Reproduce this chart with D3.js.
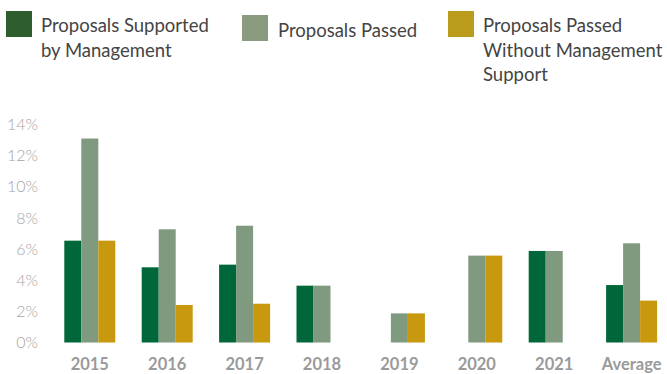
<!DOCTYPE html>
<html>
<head>
<meta charset="utf-8">
<script src="https://cdn.jsdelivr.net/npm/d3@7/dist/d3.min.js"></script>
<style>
  html, body { margin: 0; padding: 0; background: #fff; }
  svg { display: block; }
</style>
</head>
<body>
<svg id="chart" width="667" height="374"></svg>
<script>
// Share of shareholder proposals, by year
const years = ["2015", "2016", "2017", "2018", "2019", "2020", "2021", "Average"];
const supportedByMgmt = [6.54, 4.83, 5.0, 3.65, 0, 0, 5.88, 3.69];
const passed = [13.1, 7.27, 7.5, 3.65, 1.87, 5.58, 5.88, 6.37];
const passedWithoutMgmt = [6.54, 2.41, 2.49, 0, 1.87, 5.58, 0, 2.69];
const yTicks = [0, 2, 4, 6, 8, 10, 12, 14];

const seriesKeys = ["supported", "passed", "without"];
const seriesValues = { supported: supportedByMgmt, passed: passed, without: passedWithoutMgmt };
const legendLines = {
  supported: ["Proposals Supported", "by Management"],
  passed: ["Proposals Passed"],
  without: ["Proposals Passed", "Without Management", "Support"]
};
const barColor = { supported: "#00673a", passed: "#7f9a7f", without: "#c8980e" };
const swatchColor = { supported: "#2e5e30", passed: "#8a9b7f", without: "#b99c1b" };

const svg = d3.select("#chart");

const x = d3.scaleBand()
  .domain(years)
  .range([51.1, 670.3])
  .paddingInner(0.341)
  .paddingOuter(0.1705);

const xInner = d3.scaleBand()
  .domain(seriesKeys)
  .range([0, x.bandwidth()])
  .padding(0);

const y = d3.scaleLinear().domain([0, 14]).range([342.5, 124.5]);

// bars
const groups = svg.append("g").selectAll("g")
  .data(years)
  .join("g")
  .attr("transform", d => `translate(${x(d)},0)`);

groups.selectAll("rect")
  .data((d, i) => seriesKeys.map(k => ({ key: k, value: seriesValues[k][i] })))
  .join("rect")
  .filter(d => d.value > 0)
  .attr("x", d => xInner(d.key))
  .attr("width", xInner.bandwidth())
  .attr("y", d => y(d.value))
  .attr("height", d => y(0) - y(d.value))
  .attr("fill", d => barColor[d.key]);

// y axis
const yAxis = svg.append("g")
  .attr("transform", "translate(41,0)")
  .call(d3.axisLeft(y).tickValues(yTicks).tickSize(0).tickPadding(3).tickFormat(d => d + "%"));
yAxis.select(".domain").remove();
yAxis.selectAll("text")
  .attr("font-family", "Lato, 'Open Sans', sans-serif")
  .attr("font-weight", 300)
  .attr("font-size", 16)
  .attr("fill", "#a4a4a4");

// x axis
const xAxis = svg.append("g")
  .attr("transform", `translate(0,${y(0)})`)
  .call(d3.axisBottom(x).tickSize(0).tickPadding(15.5));
xAxis.select(".domain").remove();
xAxis.selectAll("text")
  .attr("font-family", "Lato, 'Open Sans', sans-serif")
  .attr("font-weight", 700)
  .attr("font-size", 16.5)
  .attr("fill", "#9a9a9a");

// legend
const legendPos = {
  supported: { sx: 6, sy: 11, tx: 41, ty: 32.3 },
  passed: { sx: 242, sy: 15, tx: 278, ty: 36.7 },
  without: { sx: 448, sy: 11, tx: 483, ty: 32.3 }
};
const legend = svg.append("g").selectAll("g")
  .data(seriesKeys)
  .join("g");
legend.append("rect")
  .attr("x", d => legendPos[d].sx)
  .attr("y", d => legendPos[d].sy)
  .attr("width", 26)
  .attr("height", 26)
  .attr("fill", d => swatchColor[d]);
legend.append("text")
  .attr("font-family", "Lato, 'Open Sans', sans-serif")
  .attr("font-size", 18.5)
  .attr("fill", "#444")
  .selectAll("tspan")
  .data(d => legendLines[d].map((t, i) => ({ t, i, key: d })))
  .join("tspan")
  .attr("x", d => legendPos[d.key].tx)
  .attr("y", d => legendPos[d.key].ty + d.i * 24.5)
  .text(d => d.t);
</script>
</body>
</html>
